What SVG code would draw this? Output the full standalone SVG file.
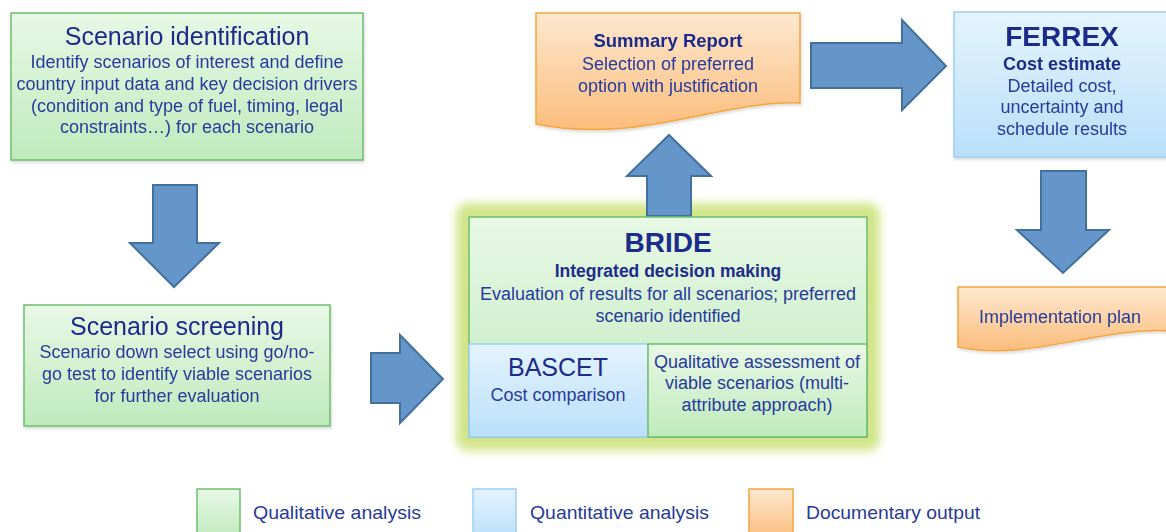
<svg xmlns="http://www.w3.org/2000/svg" width="1166" height="532" viewBox="0 0 1166 532">
  <defs>
    <linearGradient id="gGreen" x1="0" y1="0" x2="0" y2="1">
      <stop offset="0" stop-color="#e8f8e6"/>
      <stop offset="1" stop-color="#bfeabc"/>
    </linearGradient>
    <linearGradient id="gBlue" x1="0" y1="0" x2="0" y2="1">
      <stop offset="0" stop-color="#e4f4fd"/>
      <stop offset="1" stop-color="#badffa"/>
    </linearGradient>
    <linearGradient id="gOrange" x1="0" y1="0" x2="0" y2="1">
      <stop offset="0" stop-color="#fde8cf"/>
      <stop offset="1" stop-color="#fbbd7c"/>
    </linearGradient>
    <filter id="glow" x="-20%" y="-20%" width="140%" height="140%">
      <feGaussianBlur stdDeviation="5"/>
    </filter>
    <filter id="shadow" x="-10%" y="-10%" width="120%" height="130%">
      <feDropShadow dx="1" dy="2" stdDeviation="1.5" flood-color="#000" flood-opacity="0.15"/>
    </filter>
  </defs>
  <style>
    text { font-family: "Liberation Sans", Arial, sans-serif; text-anchor: middle; }
    .title { fill: #1c2c8a; }
    .body { fill: #283a9c; font-size: 18px; }
    .bold { font-weight: bold; }
    .green { fill: url(#gGreen); stroke: #6dbd6d; stroke-width: 1.5; }
    .blue { fill: url(#gBlue); stroke: #9ccff2; stroke-width: 1.5; }
    .orange { fill: url(#gOrange); stroke: #f5a53e; stroke-width: 1.5; }
    .arrow { fill: #6596ca; stroke: #41719c; stroke-width: 2; stroke-linejoin: miter; }
    .legend { fill: #283a9c; font-size: 19px; text-anchor: start; }
  </style>

  <rect width="1166" height="532" fill="#ffffff"/>

  <!-- soft halo behind the BRIDE block -->
  <rect id="bride-halo" x="456" y="203" width="424" height="248" rx="12" fill="#d2e58a" filter="url(#glow)"/>

  <!-- connectors: block arrows -->
  <g id="connectors">
    <polygon class="arrow" points="153,185 197,185 197,243 219,243 174,287 130,243 153,243"/>
    <polygon class="arrow" points="371,353 400,353 400,335 443,379 400,423 400,403 371,403"/>
    <polygon class="arrow" points="647,216 647,176 627,176 669,135 711,176 691,176 691,216"/>
    <polygon class="arrow" points="811,43 902,43 902,20 946,66 902,110 902,88 811,88"/>
    <polygon class="arrow" points="1041,171 1086,171 1086,230 1109,230 1063,273 1017,230 1041,230"/>
  </g>

  <!-- Scenario identification -->
  <g id="scenario-identification" filter="url(#shadow)">
    <rect class="green" x="11" y="13" width="352" height="147"/>
    <text class="title" x="187" y="45" font-size="25">Scenario identification</text>
    <text class="body" x="187" y="68">Identify scenarios of interest and define</text>
    <text class="body" x="187" y="90">country input data and key decision drivers</text>
    <text class="body" x="187" y="112">(condition and type of fuel, timing, legal</text>
    <text class="body" x="187" y="133">constraints…) for each scenario</text>
  </g>

  <!-- Scenario screening -->
  <g id="scenario-screening" filter="url(#shadow)">
    <rect class="green" x="24" y="305" width="306" height="121"/>
    <text class="title" x="177" y="335" font-size="25">Scenario screening</text>
    <text class="body" x="177" y="358">Scenario down select using go/no-</text>
    <text class="body" x="177" y="380">go test to identify viable scenarios</text>
    <text class="body" x="177" y="402">for further evaluation</text>
  </g>

  <!-- BRIDE with its two sub-boxes -->
  <g id="bride">
    <rect class="green" x="469" y="217" width="398" height="220"/>
    <text class="title bold" x="668" y="252" font-size="28">BRIDE</text>
    <text class="title bold" x="668" y="277" font-size="17.5">Integrated decision making</text>
    <text class="body" x="668" y="300" font-size="16.5">Evaluation of results for all scenarios; preferred</text>
    <text class="body" x="668" y="322" font-size="16.5">scenario identified</text>
  </g>
  <g id="bascet">
    <rect class="blue" x="469" y="344" width="179" height="93"/>
    <text class="title" x="558" y="376" font-size="25">BASCET</text>
    <text class="body" x="558" y="401" font-size="19">Cost comparison</text>
  </g>
  <g id="qualitative-assessment">
    <rect class="green" x="648" y="344" width="219" height="93"/>
    <text class="body" x="757" y="368">Qualitative assessment of</text>
    <text class="body" x="757" y="389">viable scenarios (multi-</text>
    <text class="body" x="757" y="411">attribute approach)</text>
  </g>

  <!-- Summary Report (document shape) -->
  <g id="summary-report" filter="url(#shadow)">
    <path class="orange" d="M536,13 H800 V103 C720,100 640,145 536,124 Z"/>
    <text class="title bold" x="668" y="47" font-size="18.5">Summary Report</text>
    <text class="body" x="668" y="70" font-size="19.5">Selection of preferred</text>
    <text class="body" x="668" y="92" font-size="19.5">option with justification</text>
  </g>

  <!-- FERREX -->
  <g id="ferrex" filter="url(#shadow)">
    <rect class="blue" x="954" y="12" width="216" height="145"/>
    <text class="title bold" x="1062" y="46" font-size="28">FERREX</text>
    <text class="title bold" x="1062" y="70" font-size="18">Cost estimate</text>
    <text class="body" x="1062" y="92">Detailed cost,</text>
    <text class="body" x="1062" y="113">uncertainty and</text>
    <text class="body" x="1062" y="135">schedule results</text>
  </g>

  <!-- Implementation plan (document shape) -->
  <g id="implementation-plan" filter="url(#shadow)">
    <path class="orange" d="M958,287 H1172 V331 C1100,326 1030,362 958,347 Z"/>
    <text class="body" x="1060" y="323" font-size="19.5">Implementation plan</text>
  </g>

  <!-- legend -->
  <g id="legend">
    <rect class="green" x="197" y="489" width="43" height="50"/>
    <text class="legend" x="253" y="519" textLength="168" lengthAdjust="spacingAndGlyphs">Qualitative analysis</text>
    <rect class="blue" x="473" y="489" width="43" height="50"/>
    <text class="legend" x="530" y="519" textLength="179" lengthAdjust="spacingAndGlyphs">Quantitative analysis</text>
    <rect class="orange" x="749" y="489" width="44" height="50"/>
    <text class="legend" x="806" y="519" textLength="174" lengthAdjust="spacingAndGlyphs">Documentary output</text>
  </g>
</svg>
